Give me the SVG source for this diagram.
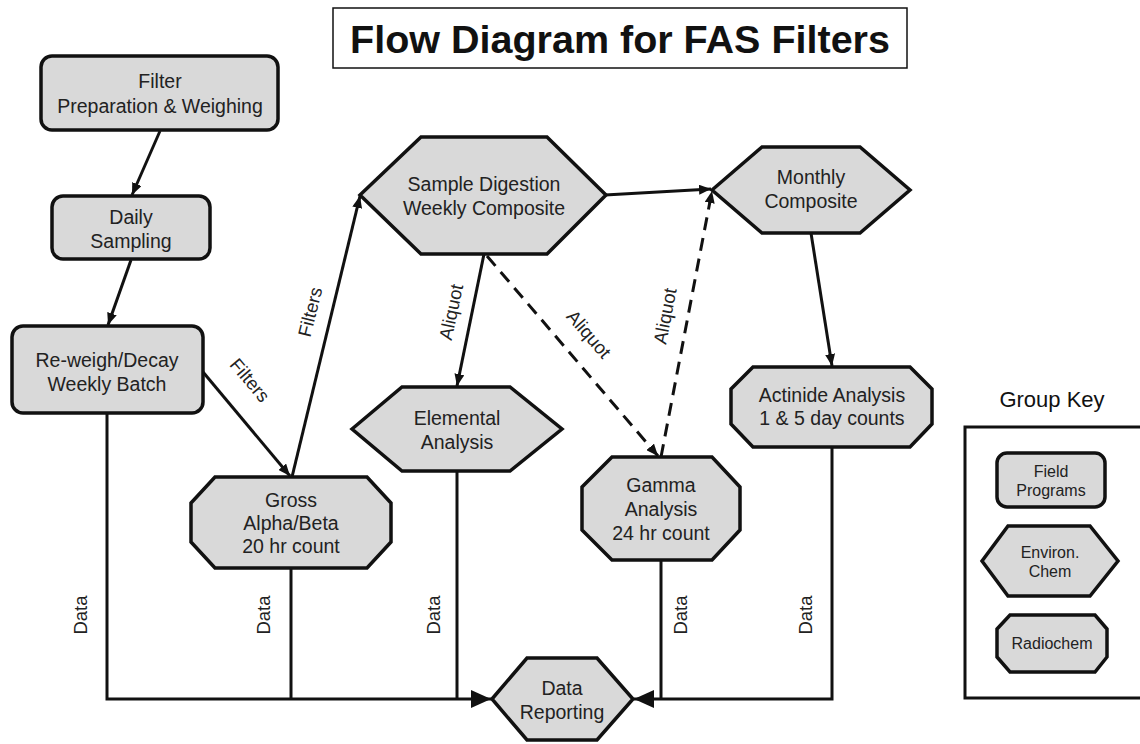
<svg xmlns="http://www.w3.org/2000/svg" width="1140" height="744" viewBox="0 0 1140 744">
<style>
.shape{fill:#d9d9d9;stroke:#111;stroke-width:3.5;stroke-linejoin:miter}
.t{font-family:"Liberation Sans",Arial,sans-serif;font-size:19.5px;fill:#222;text-anchor:middle}
.k{font-family:"Liberation Sans",Arial,sans-serif;font-size:16px;fill:#222;text-anchor:middle}
.lbl{font-family:"Liberation Sans",Arial,sans-serif;font-size:18.5px;fill:#222;text-anchor:middle}
.c{fill:none;stroke:#111;stroke-width:3}
.d{stroke-dasharray:13 8}
</style>
<defs>
<marker id="ah" viewBox="0 0 12 10" refX="12" refY="5" markerWidth="12" markerHeight="10" markerUnits="userSpaceOnUse" orient="auto"><path d="M0,0 L12,5 L0,10 z" fill="#111"/></marker>
<marker id="ahb" viewBox="0 0 20 18" refX="20" refY="9" markerWidth="20" markerHeight="18" markerUnits="userSpaceOnUse" orient="auto"><path d="M0,0 L20,9 L0,18 z" fill="#111"/></marker>
</defs>
<rect width="1140" height="744" fill="#fff"/>

<g id="title">
<rect x="333" y="8" width="574" height="60" fill="#fff" stroke="#111" stroke-width="1.5"/>
<text x="620" y="53" style="font-family:'Liberation Sans',Arial,sans-serif;font-size:39.5px;font-weight:bold;fill:#111;text-anchor:middle">Flow Diagram for FAS Filters</text>
</g>

<g id="connectors">
<line class="c" x1="160" y1="131" x2="132" y2="195" marker-end="url(#ah)"/>
<line class="c" x1="131" y1="260" x2="108" y2="325" marker-end="url(#ah)"/>
<line class="c" x1="203" y1="372" x2="290" y2="476" marker-end="url(#ah)"/>
<line class="c" x1="292" y1="477" x2="360" y2="196" marker-end="url(#ah)"/>
<line class="c" x1="605" y1="195" x2="711" y2="189" marker-end="url(#ah)"/>
<line class="c" x1="484" y1="254" x2="457" y2="386" marker-end="url(#ah)"/>
<line class="c d" x1="487" y1="256" x2="658" y2="456" marker-end="url(#ah)"/>
<line class="c d" x1="661" y1="457" x2="712" y2="191" marker-end="url(#ah)"/>
<line class="c" x1="811" y1="233" x2="832" y2="366" marker-end="url(#ah)"/>
<polyline class="c" points="107,413 107,699 491,699" marker-end="url(#ahb)"/>
<line class="c" x1="291" y1="568" x2="291" y2="699"/>
<line class="c" x1="457" y1="471" x2="457" y2="699"/>
<line class="c" x1="661" y1="560" x2="661" y2="699"/>
<polyline class="c" points="832,447 832,699 634,699" marker-end="url(#ahb)"/>
<text class="lbl" transform="translate(250,380) rotate(50)" y="6.5">Filters</text>
<text class="lbl" transform="translate(310,312) rotate(-76)" y="6.5">Filters</text>
<text class="lbl" transform="translate(451,312) rotate(-78)" y="6.5">Aliquot</text>
<text class="lbl" transform="translate(589,334) rotate(49)" y="6.5">Aliquot</text>
<text class="lbl" transform="translate(665,316) rotate(-79)" y="6.5">Aliquot</text>
<text class="lbl" transform="translate(80,615) rotate(-90)" y="6.5">Data</text>
<text class="lbl" transform="translate(263,615) rotate(-90)" y="6.5">Data</text>
<text class="lbl" transform="translate(433,615) rotate(-90)" y="6.5">Data</text>
<text class="lbl" transform="translate(680,615) rotate(-90)" y="6.5">Data</text>
<text class="lbl" transform="translate(805,615) rotate(-90)" y="6.5">Data</text>
</g>

<g id="filter-prep">
<rect class="shape" x="41" y="56" width="237" height="74" rx="11"/>
<text class="t" x="160" y="88">Filter</text>
<text class="t" x="160" y="113">Preparation &amp; Weighing</text>
</g>

<g id="daily-sampling">
<rect class="shape" x="52" y="196" width="158" height="63" rx="11"/>
<text class="t" x="131" y="224">Daily</text>
<text class="t" x="131" y="248">Sampling</text>
</g>

<g id="reweigh">
<rect class="shape" x="12" y="326" width="191" height="87" rx="11"/>
<text class="t" x="107" y="367">Re-weigh/Decay</text>
<text class="t" x="107" y="391">Weekly Batch</text>
</g>

<g id="gross">
<polygon class="shape" points="215,477 367,477 391,503 391,542 367,568 215,568 191,542 191,503"/>
<text class="t" x="291" y="507">Gross</text>
<text class="t" x="291" y="530">Alpha/Beta</text>
<text class="t" x="291" y="553">20 hr count</text>
</g>

<g id="sample-digestion">
<polygon class="shape" points="360,195 421,137 547,137 606,195 547,254 421,254"/>
<text class="t" x="484" y="191">Sample Digestion</text>
<text class="t" x="484" y="215">Weekly Composite</text>
</g>

<g id="monthly">
<polygon class="shape" points="712,190 762,147 860,147 910,190 860,233 762,233"/>
<text class="t" x="811" y="184">Monthly</text>
<text class="t" x="811" y="208">Composite</text>
</g>

<g id="elemental">
<polygon class="shape" points="352,429 402,387 510,387 562,429 510,471 402,471"/>
<text class="t" x="457" y="425">Elemental</text>
<text class="t" x="457" y="449">Analysis</text>
</g>

<g id="gamma">
<polygon class="shape" points="612,457 712,457 740,487 740,530 712,560 612,560 582,530 582,487"/>
<text class="t" x="661" y="492">Gamma</text>
<text class="t" x="661" y="516">Analysis</text>
<text class="t" x="661" y="540">24 hr count</text>
</g>

<g id="actinide">
<polygon class="shape" points="753,367 910,367 932,389 932,424 910,447 753,447 731,424 731,389"/>
<text class="t" x="832" y="402">Actinide Analysis</text>
<text class="t" x="832" y="425">1 &amp; 5 day counts</text>
</g>

<g id="data-reporting">
<polygon class="shape" points="492,699 527,658 597,658 633,699 597,740 527,740"/>
<text class="t" x="562" y="695">Data</text>
<text class="t" x="562" y="719">Reporting</text>
</g>

<g id="group-key">
<text x="1052" y="407" style="font-family:'Liberation Sans',Arial,sans-serif;font-size:22px;fill:#111;text-anchor:middle">Group Key</text>
<rect x="965" y="427" width="190" height="271" fill="#fff" stroke="#111" stroke-width="3"/>
<g id="key-field">
<rect class="shape" x="997" y="453" width="108" height="54" rx="10"/>
<text class="k" x="1051" y="477">Field</text>
<text class="k" x="1051" y="496">Programs</text>
</g>
<g id="key-environ">
<polygon class="shape" points="982,561 1008,526 1090,526 1118,561 1090,596 1008,596"/>
<text class="k" x="1050" y="558">Environ.</text>
<text class="k" x="1050" y="577">Chem</text>
</g>
<g id="key-radiochem">
<polygon class="shape" points="1010,615 1095,615 1107,629 1107,657 1095,672 1010,672 997,657 997,629"/>
<text class="k" x="1052" y="649">Radiochem</text>
</g>
</g>
</svg>
